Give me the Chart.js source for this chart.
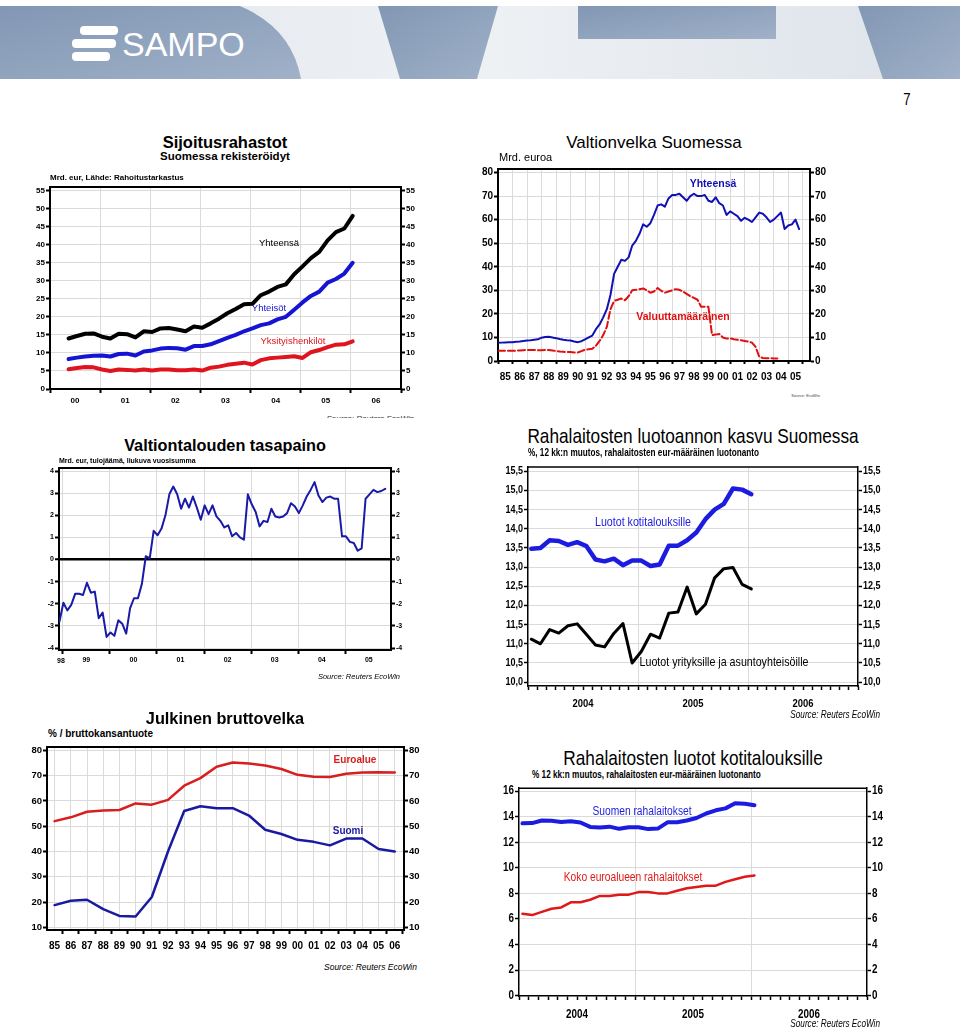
<!DOCTYPE html>
<html>
<head>
<meta charset="utf-8">
<script src="https://cdn.jsdelivr.net/npm/chart.js@4.4.1/dist/chart.umd.min.js"></script>
<style>
html, body { margin: 0; padding: 0; background: #fff; }
body { width: 960px; height: 1029px; position: relative; overflow: hidden; font-family: "Liberation Sans", Arial, sans-serif; }
.t { position: absolute; white-space: nowrap; line-height: 1; }
canvas { position: absolute; }
</style>
</head>
<body>
<svg width="960" height="80" style="position:absolute;left:0;top:0">
  <defs>
    <linearGradient id="gb" x1="0" y1="0" x2="1" y2="1">
      <stop offset="0" stop-color="#8297b4"/>
      <stop offset="1" stop-color="#a0b1c8"/>
    </linearGradient>
    <linearGradient id="gl" x1="0" y1="0" x2="1" y2="0">
      <stop offset="0" stop-color="#e2e7ed"/>
      <stop offset="0.5" stop-color="#eef1f4"/>
      <stop offset="1" stop-color="#dde3ea"/>
    </linearGradient>
  </defs>
  <rect x="0" y="6" width="960" height="73" fill="url(#gl)"/>
  <path d="M0 6 H240 Q292 28 301 79 H0 Z" fill="url(#gb)"/>
  <polygon points="378,6 498,6 477,79 400,79" fill="url(#gb)"/>
  <rect x="578" y="6" width="198" height="33" fill="url(#gb)"/>
  <polygon points="858,6 960,6 960,79 883,79" fill="url(#gb)"/>
  <rect x="80" y="26" width="38" height="9" rx="4" fill="#fff"/>
  <rect x="72" y="39" width="44" height="9" rx="4" fill="#fff"/>
  <rect x="72" y="52" width="38" height="9" rx="4" fill="#fff"/>
</svg>

<script>
// Sijoitusrahastot, Mrd. eur, joka toinen kuukausi alkaen 2000/05
const fundsStart = 2000.37
const fundsStep = 2 / 12
const fundsTotal = [14.0, 14.7, 15.3, 15.4, 14.5, 14.0, 15.3, 15.2, 14.3, 16.0, 15.8, 16.8, 16.9, 16.5, 16.0, 17.3, 17.0, 18.2, 19.5, 21.0, 22.2, 23.5, 23.6, 26.0, 27.0, 28.3, 29.0, 31.8, 34.0, 36.3, 38.0, 41.2, 43.5, 44.5, 48.0]
const fundsCorporate = [8.3, 8.7, 9.0, 9.2, 9.3, 9.0, 9.7, 9.8, 9.3, 10.4, 10.7, 11.2, 11.4, 11.3, 10.9, 11.9, 11.9, 12.4, 13.3, 14.2, 15.0, 16.0, 16.8, 17.7, 18.2, 19.3, 20.0, 22.0, 24.0, 25.8, 27.0, 29.5, 30.5, 32.0, 35.0]
const fundsPrivate = [5.5, 5.8, 6.1, 6.0, 5.4, 5.0, 5.4, 5.3, 5.1, 5.4, 5.1, 5.4, 5.4, 5.2, 5.2, 5.4, 5.1, 5.9, 6.2, 6.7, 7.0, 7.3, 6.8, 8.0, 8.5, 8.7, 8.9, 9.1, 8.6, 10.2, 10.8, 11.6, 12.3, 12.4, 13.2]
const fundsYears = ['00', '01', '02', '03', '04', '05', '06']
const fundsTicks = [0, 5, 10, 15, 20, 25, 30, 35, 40, 45, 50, 55]

// Valtionvelka, Mrd. euroa, neljännesvuosittain alkaen 1985
const debtStart = 1985.0
const debtStep = 0.25
const debtTotal = [7.7, 7.8, 7.9, 8.0, 8.0, 8.2, 8.3, 8.5, 8.7, 8.8, 9.0, 9.2, 9.9, 10.2, 10.3, 10.0, 9.7, 9.3, 9.0, 8.8, 8.7, 8.3, 8.0, 8.4, 9.2, 10.0, 10.8, 13.5, 15.5, 18.5, 22.0, 28.0, 37.0, 40.0, 43.0, 42.5, 44.0, 49.0, 51.0, 54.0, 58.0, 57.0, 58.5, 62.0, 66.0, 66.5, 65.5, 69.0, 70.5, 70.5, 71.0, 69.5, 68.0, 70.0, 71.0, 70.0, 70.0, 70.5, 68.0, 67.5, 69.5, 67.0, 66.0, 62.0, 63.5, 62.5, 61.5, 59.5, 60.8, 60.0, 59.0, 61.0, 63.0, 62.5, 61.0, 59.0, 60.0, 61.5, 63.0, 56.0, 57.5, 58.0, 60.0, 56.0]
const debtForeign = [4.3, 4.3, 4.3, 4.4, 4.4, 4.4, 4.5, 4.6, 4.7, 4.7, 4.7, 4.6, 4.6, 4.7, 4.7, 4.5, 4.2, 4.0, 3.9, 3.8, 3.8, 3.6, 3.6, 4.2, 4.8, 5.0, 5.2, 6.5, 8.5, 11.0, 14.5, 22.0, 25.5, 26.0, 26.5, 25.8, 27.5, 30.0, 30.2, 30.5, 30.8, 30.0, 29.0, 29.5, 31.0, 29.8, 29.0, 29.5, 30.0, 30.5, 30.2, 29.5, 28.5, 27.5, 26.8, 26.0, 23.0, 23.0, 23.0, 11.0, 11.2, 11.5, 10.0, 9.5, 9.6, 9.2, 9.0, 8.8, 8.5, 8.2, 7.8, 6.0, 1.8, 1.3, 1.2, 1.2, 1.1, 1.1]
const debtYears = ['85', '86', '87', '88', '89', '90', '91', '92', '93', '94', '95', '96', '97', '98', '99', '00', '01', '02', '03', '04', '05']
const debtTicks = [0, 10, 20, 30, 40, 50, 60, 70, 80]

// Valtiontalouden tasapaino, kuukausittain alkaen 1998/12
const balanceStart = 1998.93
const balanceStep = 1 / 12
const balance = [-2.8, -1.95, -2.3, -2.05, -1.55, -1.55, -1.6, -1.05, -1.5, -1.45, -2.65, -2.4, -3.5, -3.3, -3.45, -2.75, -2.9, -3.35, -2.2, -1.75, -1.75, -1.1, 0.15, 0.05, 1.3, 1.1, 1.4, 2.0, 2.95, 3.3, 2.95, 2.3, 2.75, 2.35, 2.85, 2.35, 1.8, 2.45, 2.05, 2.45, 1.95, 1.75, 1.45, 1.55, 1.05, 1.2, 1.0, 0.9, 2.95, 2.5, 2.15, 1.5, 1.75, 1.7, 2.3, 1.95, 1.9, 1.95, 2.1, 2.55, 2.4, 2.1, 2.45, 2.85, 3.15, 3.5, 2.9, 2.6, 2.8, 2.85, 2.75, 2.75, 1.05, 1.05, 0.8, 0.75, 0.4, 0.5, 2.75, 2.95, 3.15, 3.05, 3.1, 3.2]
const balanceYears = ['99', '00', '01', '02', '03', '04', '05']
const balanceTicks = [-4, -3, -2, -1, 0, 1, 2, 3, 4]

// Luotonannon kasvu, %, kuukausittain 2004/01 - 2006/01
const loanStart = 2004.03
const loanStep = 1 / 12
const householdLoans = [13.48, 13.5, 13.7, 13.68, 13.58, 13.65, 13.55, 13.2, 13.15, 13.22, 13.05, 13.17, 13.17, 13.03, 13.07, 13.56, 13.56, 13.7, 13.9, 14.25, 14.5, 14.65, 15.05, 15.02, 14.9]
const corporateLoans = [11.12, 11.0, 11.37, 11.28, 11.47, 11.52, 11.25, 10.97, 10.92, 11.27, 11.53, 10.5, 10.8, 11.25, 11.15, 11.8, 11.83, 12.48, 11.78, 12.03, 12.72, 12.96, 12.99, 12.55, 12.43]
const euroLoans = [6.4, 6.3, 6.55, 6.8, 6.9, 7.3, 7.3, 7.5, 7.8, 7.8, 7.9, 7.9, 8.1, 8.1, 8.0, 8.0, 8.2, 8.4, 8.5, 8.6, 8.6, 8.9, 9.1, 9.3, 9.4]
const loanYears = ['2004', '2005', '2006']
const growthTicks = [10, 10.5, 11, 11.5, 12, 12.5, 13, 13.5, 14, 14.5, 15, 15.5]
const householdTicks = [0, 2, 4, 6, 8, 10, 12, 14, 16]

// Julkinen bruttovelka, % BKT, vuosittain 1985 - 2006
const grossStart = 1985
const grossYears = ['85', '86', '87', '88', '89', '90', '91', '92', '93', '94', '95', '96', '97', '98', '99', '00', '01', '02', '03', '04', '05', '06']
const euroDebt = [52.0, 53.5, 55.7, 56.2, 56.4, 59.0, 58.5, 60.4, 66.0, 69.0, 73.5, 75.2, 74.8, 74.0, 72.6, 70.3, 69.5, 69.4, 70.7, 71.2, 71.3, 71.2]
const finDebt = [18.8, 20.5, 20.9, 17.2, 14.5, 14.3, 22.0, 40.0, 56.0, 57.9, 57.1, 57.1, 54.2, 48.6, 46.9, 44.6, 43.8, 42.4, 45.1, 45.1, 41.0, 40.0]
const grossTicks = [10, 20, 30, 40, 50, 60, 70, 80]

const SANS = '"Liberation Sans", Arial, sans-serif'
const GRID = '#dadada'
const CLEAR = 'rgba(0,0,0,0)'
const SQ = 0.82   // no narrow face installed, so squeeze Liberation Sans

function txt(s, x, y, style, align, k) {
  const d = document.createElement('div')
  d.className = 't'
  d.textContent = s
  d.style.cssText += 'font-family:' + SANS + ';' + style
  d.style.left = x + 'px'
  d.style.top = y + 'px'
  const tx = align === 'l' ? '0' : align === 'r' ? '-100%' : '-50%'
  d.style.transformOrigin = (align === 'l' ? 'left' : align === 'r' ? 'right' : 'center') + ' center'
  d.style.transform = 'translate(' + tx + ',-50%)' + (k ? ' scaleX(' + k + ')' : '')
  document.body.appendChild(d)
  return d
}
const ntxt = (s, x, y, style, align) => txt(s, x, y, style, align, SQ)

function series(values, start, step, color, width, dash) {
  return {
    data: values.map((v, i) => ({ x: start + i * step, y: v })),
    borderColor: color,
    borderWidth: width,
    borderDash: dash || [],
    fill: false
  }
}

const topLine = {
  id: 'topLine',
  afterDraw(chart, args, opts) {
    const { ctx, chartArea: a } = chart
    ctx.save()
    ctx.strokeStyle = '#000'
    ctx.lineWidth = opts.width
    ctx.beginPath()
    ctx.moveTo(a.left, a.top)
    ctx.lineTo(a.right, a.top)
    ctx.stroke()
    ctx.restore()
  }
}

// redraw the axis labels squeezed horizontally (narrow look), at the spots the scales computed
const squeeze = {
  id: 'squeeze',
  afterDraw(chart, args, opts) {
    if (!opts.k) return
    const ctx = chart.ctx
    Object.values(chart.scales).forEach(s => {
      s.getLabelItems().forEach(it => {
        if (!it.label) return
        const o = it.options
        ctx.save()
        ctx.translate(o.translation[0], o.translation[1])
        ctx.scale(opts.k, 1)
        ctx.font = it.font.string
        ctx.fillStyle = '#000'
        ctx.textAlign = o.textAlign
        ctx.textBaseline = o.textBaseline
        ctx.fillText(it.label, 0, it.textOffset)
        ctx.restore()
      })
    })
  }
}

function build(o) {
  const [l, t, r, b] = o.box
  const w = r - l + o.lw + o.rw
  const h = b - t + o.tp + o.bh
  const c = document.createElement('canvas')
  c.width = w
  c.height = h
  c.style.left = (l - o.lw) + 'px'
  c.style.top = (t - o.tp) + 'px'
  document.body.appendChild(c)
  const xt = o.xticks.sort((a, b) => a.value - b.value)
  const labelColor = o.narrow ? CLEAR : '#000'
  const yAxis = (side, width) => ({
    type: 'linear', position: side, min: o.y[0], max: o.y[1],
    afterBuildTicks: s => { s.ticks = o.yticks.map(v => ({ value: v })) },
    afterFit: s => { s.width = width },
    ticks: { font: o.font, color: labelColor, padding: 1, autoSkip: false, callback: o.yfmt || (v => String(v)) },
    grid: {
      drawOnChartArea: side === 'left',
      color: o.yline || (() => GRID),
      lineWidth: o.ylineW || 1,
      tickColor: '#000', tickLength: 4, tickWidth: o.bw
    },
    border: { color: '#000', width: o.bw }
  })
  return new Chart(c, {
    type: 'line',
    data: { datasets: o.datasets },
    options: {
      responsive: false, animation: false, devicePixelRatio: 1,
      layout: { padding: { top: o.tp, left: 0, right: 0, bottom: 0 } },
      plugins: {
        legend: { display: false }, tooltip: { enabled: false },
        topLine: { width: o.bw }, squeeze: { k: o.narrow ? SQ : 0 }
      },
      elements: { point: { radius: 0 }, line: { tension: 0, borderJoinStyle: 'round', borderCapStyle: 'round' } },
      scales: {
        x: {
          type: 'linear', min: o.x[0], max: o.x[1],
          afterBuildTicks: s => { s.ticks = xt.map(k => ({ value: k.value })) },
          afterFit: s => { s.height = o.bh },
          ticks: { font: o.xfont || o.font, color: labelColor, autoSkip: false, maxRotation: 0, padding: o.xpad, callback: (v, i) => (xt[i] && xt[i].label) || '' },
          grid: {
            color: ctx => (xt[ctx.index] && xt[ctx.index].grid) ? GRID : CLEAR,
            tickColor: ctx => (xt[ctx.index] && xt[ctx.index].mark) ? '#000' : CLEAR,
            tickLength: o.xtick || 4, tickWidth: o.bw
          },
          border: { color: '#000', width: o.bw }
        },
        y: yAxis('left', o.lw),
        y2: yAxis('right', o.rw)
      }
    },
    plugins: [topLine, squeeze]
  })
}

// ---------- Sijoitusrahastot ----------
const xt1 = []
for (let i = 0; i <= 7; i++) xt1.push({ value: 2000 + i, grid: i > 0 && i < 7, mark: true })
fundsYears.forEach((s, i) => xt1.push({ value: 2000.5 + i, label: s }))
build({
  box: [50, 187, 401, 389], lw: 28, rw: 28, tp: 8, bh: 20, bw: 2,
  x: [2000, 2007], y: [0, 56], yticks: fundsTicks, xticks: xt1, xpad: 3,
  font: { family: SANS, size: 8, weight: 'bold' },
  datasets: [
    series(fundsTotal, fundsStart, fundsStep, '#000000', 4),
    series(fundsCorporate, fundsStart, fundsStep, '#1414d2', 4),
    series(fundsPrivate, fundsStart, fundsStep, '#e0141e', 4)
  ]
})
txt('Sijoitusrahastot', 225, 142, 'font-weight:bold;font-size:16.5px;')
txt('Suomessa rekisteröidyt', 225, 157, 'font-weight:bold;font-size:11.5px;')
txt('Mrd. eur, Lähde: Rahoitustarkastus', 50, 178, 'font-weight:bold;font-size:8px;', 'l')
txt('Yhteensä', 279, 243, 'font-size:9.5px;color:#000;')
txt('Yhteisöt', 269, 308, 'font-size:9.5px;color:#1414d2;')
txt('Yksityishenkilöt', 293, 341, 'font-size:9.5px;color:#e0141e;')
const clip1 = document.createElement('div')
clip1.style.cssText = 'position:absolute;left:300px;top:410px;width:130px;height:8px;overflow:hidden;'
clip1.innerHTML = '<div class="t" style="right:16px;top:5px;font-style:italic;font-size:8px;color:#333;">Source: Reuters EcoWin</div>'
document.body.appendChild(clip1)

// ---------- Valtionvelka Suomessa ----------
const xt2 = []
for (let i = 0; i <= 21; i++) xt2.push({ value: 1985 + i, grid: i > 0, mark: true })
debtYears.forEach((s, i) => xt2.push({ value: 1985.5 + i, label: s }))
build({
  box: [498, 169, 810, 361], lw: 26, rw: 26, tp: 8, bh: 24, bw: 2,
  x: [1985, 2006.5], y: [0, 81.5], yticks: debtTicks, xticks: xt2, xpad: 7, xtick: 3,
  font: { family: SANS, size: 10, weight: 'bold' },
  datasets: [
    series(debtTotal, debtStart, debtStep, '#1010b4', 2),
    series(debtForeign, debtStart, debtStep, '#e01010', 2, [7, 3])
  ]
})
txt('Valtionvelka Suomessa', 654, 142, 'font-size:17px;')
txt('Mrd. euroa', 499, 157, 'font-size:11px;', 'l')
txt('Yhteensä', 713, 183, 'font-weight:bold;font-size:10.5px;color:#1010b4;')
txt('Valuuttamääräinen', 683, 316, 'font-weight:bold;font-size:10.5px;color:#e01010;')
txt('Source: EcoWin', 820, 396, 'font-size:4px;color:#444;', 'r')

// ---------- Valtiontalouden tasapaino ----------
const xt3 = []
for (let i = 0; i <= 6; i++) xt3.push({ value: 1999 + i, grid: true, mark: true })
balanceYears.forEach((s, i) => xt3.push({ value: 1999.5 + i, label: s }))
build({
  box: [59, 468, 391, 650], lw: 20, rw: 20, tp: 8, bh: 16, bw: 2,
  x: [1998.92, 2005.97], y: [-4.09, 4.14], yticks: balanceTicks, xticks: xt3, xpad: 2,
  font: { family: SANS, size: 7, weight: 'bold' },
  yline: ctx => ctx.tick && ctx.tick.value === 0 ? '#000' : GRID,
  ylineW: ctx => ctx.tick && ctx.tick.value === 0 ? 2.5 : 1,
  datasets: [series(balance, balanceStart, balanceStep, '#1a1aa8', 2)]
})
txt('Valtiontalouden tasapaino', 225, 445, 'font-weight:bold;font-size:16.3px;')
txt('Mrd. eur, tulojäämä, liukuva vuosisumma', 59, 460, 'font-weight:bold;font-size:7px;', 'l')
txt('98', 61, 660, 'font-weight:bold;font-size:7px;')
txt('Source: Reuters EcoWin', 400, 677, 'font-style:italic;font-size:7.5px;', 'r')

// ---------- Rahalaitosten luotoannon kasvu Suomessa ----------
function monthTicks() {
  const a = []
  for (let m = 0; m <= 36; m++) {
    a.push({ value: 2004 + m / 12, grid: m % 12 === 0 && m > 0 && m < 36, mark: true, label: m % 12 === 6 ? loanYears[(m - 6) / 12] : '' })
  }
  return a
}
const comma = v => v.toFixed(1).replace('.', ',')
build({
  box: [528, 467, 858, 686], lw: 40, rw: 40, tp: 8, bh: 26, bw: 1.5, narrow: true,
  x: [2004, 2007], y: [9.9, 15.61], yticks: growthTicks, xticks: monthTicks(), xpad: 7,
  font: { family: SANS, size: 11, weight: 'bold' }, yfmt: comma,
  xfont: { family: SANS, size: 11.5, weight: 'bold' },
  datasets: [
    series(householdLoans, loanStart, loanStep, '#1c1ce0', 4.5),
    series(corporateLoans, loanStart, loanStep, '#000000', 3)
  ]
})
ntxt('Rahalaitosten luotoannon kasvu Suomessa', 693, 435, 'font-size:21px;')
ntxt('%, 12 kk:n muutos, rahalaitosten eur-määräinen luotonanto', 528, 453, 'font-weight:bold;font-size:10px;', 'l')
ntxt('Luotot kotitalouksille', 643, 521, 'font-size:13px;color:#1c1ce0;')
ntxt('Luotot yrityksille ja asuntoyhteisöille', 724, 661, 'font-size:13px;color:#000;')
ntxt('Source: Reuters EcoWin', 880, 715, 'font-style:italic;font-size:10px;', 'r')

// ---------- Julkinen bruttovelka ----------
const xt5 = []
grossYears.forEach((s, i) => {
  xt5.push({ value: grossStart + i, grid: true, mark: false, label: s })
  xt5.push({ value: grossStart + i + 0.5, grid: false, mark: true })
})
build({
  box: [47, 747, 404, 930], lw: 26, rw: 26, tp: 8, bh: 24, bw: 2,
  x: [1984.53, 2006.57], y: [8.95, 81.3], yticks: grossTicks, xticks: xt5, xpad: 6,
  font: { family: SANS, size: 9.5, weight: 'bold' },
  xfont: { family: SANS, size: 10, weight: 'bold' },
  datasets: [
    series(euroDebt, grossStart, 1, '#d81e1e', 2.5),
    series(finDebt, grossStart, 1, '#1a1aa0', 2.5)
  ]
})
txt('Julkinen bruttovelka', 225, 718, 'font-weight:bold;font-size:16.3px;')
txt('% / bruttokansantuote', 48, 734, 'font-weight:bold;font-size:10px;', 'l')
txt('Euroalue', 355, 760, 'font-weight:bold;font-size:10px;color:#d81e1e;')
txt('Suomi', 348, 831, 'font-weight:bold;font-size:10px;color:#1a1aa0;')
txt('Source: Reuters EcoWin', 417, 967, 'font-style:italic;font-size:8.5px;', 'r')

// ---------- Rahalaitosten luotot kotitalouksille ----------
build({
  box: [519, 788, 867, 996], lw: 30, rw: 30, tp: 8, bh: 26, bw: 1.5, narrow: true,
  x: [2004, 2007], y: [-0.03, 16.23], yticks: householdTicks, xticks: monthTicks(), xpad: 7,
  font: { family: SANS, size: 12, weight: 'bold' },
  xfont: { family: SANS, size: 12, weight: 'bold' },
  datasets: [
    series(householdLoans, loanStart, loanStep, '#1c1ce0', 4),
    series(euroLoans, loanStart, loanStep, '#e01818', 2.5)
  ]
})
ntxt('Rahalaitosten luotot kotitalouksille', 693, 757, 'font-size:21px;')
ntxt('% 12 kk:n muutos, rahalaitosten eur-määräinen luotonanto', 532, 775, 'font-weight:bold;font-size:10px;', 'l')
ntxt('Suomen rahalaitokset', 642, 811, 'font-size:12.5px;color:#1c1ce0;')
ntxt('Koko euroalueen rahalaitokset', 633, 877, 'font-size:12.5px;color:#e01818;')
ntxt('Source: Reuters EcoWin', 880, 1024, 'font-style:italic;font-size:10px;', 'r')

// ---------- otsikko ----------
txt('SAMPO', 122, 44, 'font-size:34px;color:#fff;', 'l')
ntxt('7', 907, 100, 'font-size:16px;')
</script>
</body>
</html>
